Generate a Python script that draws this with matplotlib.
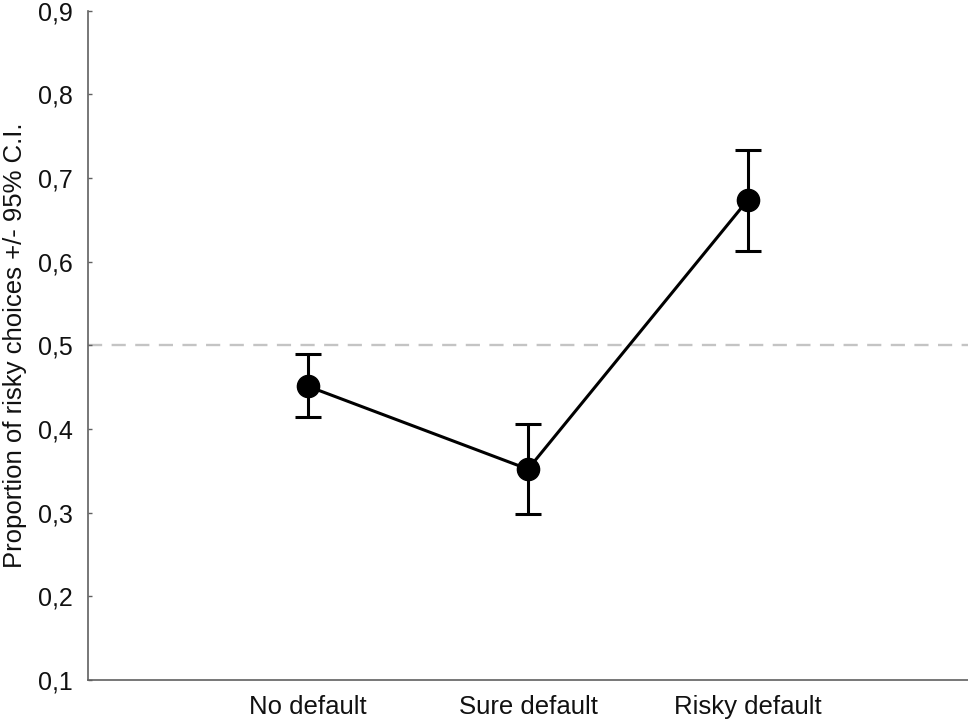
import matplotlib
matplotlib.use("Agg")
import matplotlib.pyplot as plt

categories = ["No default", "Sure default", "Risky default"]
proportion = [0.451, 0.352, 0.674]
ci_low = [0.414, 0.298, 0.613]
ci_high = [0.490, 0.406, 0.733]
y_ticks = [0.1, 0.2, 0.3, 0.4, 0.5, 0.6, 0.7, 0.8, 0.9]
chance_level = 0.5

plt.rcParams["font.family"] = ["Liberation Sans", "DejaVu Sans"]

positions = list(range(1, len(categories) + 1))
lower_err = [p - lo for p, lo in zip(proportion, ci_low)]
upper_err = [hi - p for p, hi in zip(proportion, ci_high)]

figure = plt.figure(figsize=(9.68, 7.21), dpi=100)
axis = figure.add_axes([0.0909, 0.0569, 0.9091, 0.9283])

axis.axhline(chance_level, color="#c4c4c4", linewidth=1.7, dashes=(6, 4), zorder=1)
axis.errorbar(
    positions,
    proportion,
    yerr=[lower_err, upper_err],
    color="black",
    linewidth=2.2,
    elinewidth=2.2,
    capsize=9.5,
    capthick=2.2,
    marker="o",
    markersize=16,
    zorder=3,
)

axis.set_xlim(0, 4)
axis.set_ylim(0.1, 0.9)
axis.set_xticks(positions)
axis.set_xticklabels(categories)
axis.set_yticks(y_ticks)
axis.set_yticklabels([f"{v:.1f}".replace(".", ",") for v in y_ticks])
axis.set_ylabel("Proportion of risky choices +/- 95% C.I.", fontsize=18.5, color="#111111")
axis.yaxis.set_label_coords(-0.069, 0.5)

axis.tick_params(axis="y", direction="in", length=3, width=1, color="#606060",
                 pad=11, labelsize=18, labelcolor="#111111")
axis.tick_params(axis="x", length=0, pad=11, labelsize=18.5, labelcolor="#111111")
for side in ("top", "right"):
    axis.spines[side].set_visible(False)
for side in ("left", "bottom"):
    axis.spines[side].set_color("#606060")
    axis.spines[side].set_linewidth(1.2)

figure.savefig("out.png", dpi=100)
plt.close(figure)
